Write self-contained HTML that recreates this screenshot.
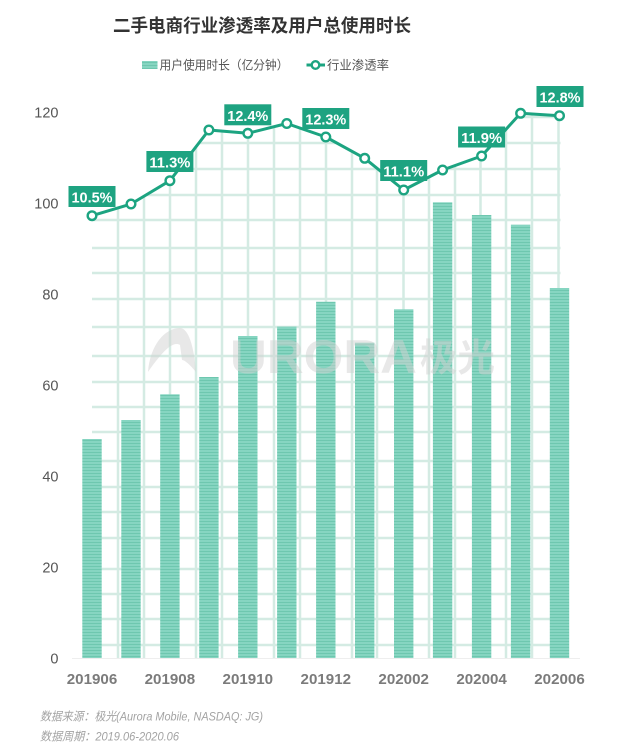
<!DOCTYPE html>
<html><head><meta charset="utf-8"><style>
html,body{margin:0;padding:0;background:#fff;}
svg{display:block;}
text{font-family:"Liberation Sans","Noto Sans CJK SC",sans-serif;}
</style></head><body>
<svg width="640" height="748" viewBox="0 0 640 748" xmlns="http://www.w3.org/2000/svg">
<defs>
<pattern id="stripe" width="4" height="3" patternUnits="userSpaceOnUse">
<rect width="4" height="3" fill="#86d5c1"/>
<rect y="2" width="4" height="1" fill="#6ec7af"/>
</pattern>
<clipPath id="under">
<polygon points="92,215.7 131,204 169.9,180.7 208.9,130 247.8,133.3 286.8,123.5 325.8,137 364.7,158.3 403.7,190 442.6,170 481.6,156 520.6,113.3 560.5,115.7 560.5,658 92,658"/>
</clipPath>
</defs>
<rect width="640" height="748" fill="#fff"/>

<!-- title -->
<text x="113" y="32" font-size="18" font-weight="bold" fill="#333" textLength="298" lengthAdjust="spacingAndGlyphs">二手电商行业渗透率及用户总使用时长</text>

<!-- legend -->
<rect x="142" y="61" width="15.5" height="8" fill="url(#stripe)"/>
<text x="159.5" y="69.5" font-size="12.5" fill="#555" textLength="129" lengthAdjust="spacingAndGlyphs">用户使用时长（亿分钟）</text>
<line x1="306.5" y1="65" x2="325" y2="65" stroke="#1ca481" stroke-width="3"/>
<circle cx="315.5" cy="65" r="3.8" fill="#fff" stroke="#1ca481" stroke-width="2.4"/>
<text x="327" y="69.5" font-size="12.5" fill="#555" textLength="62" lengthAdjust="spacingAndGlyphs">行业渗透率</text>

<!-- grid -->
<g clip-path="url(#under)" stroke="#d4ebe3" stroke-width="2.5">
<line x1="118" y1="100" x2="118" y2="658"/>
<line x1="144" y1="100" x2="144" y2="658"/>
<line x1="170" y1="100" x2="170" y2="658"/>
<line x1="196" y1="100" x2="196" y2="658"/>
<line x1="222" y1="100" x2="222" y2="658"/>
<line x1="248" y1="100" x2="248" y2="658"/>
<line x1="274" y1="100" x2="274" y2="658"/>
<line x1="300" y1="100" x2="300" y2="658"/>
<line x1="326" y1="100" x2="326" y2="658"/>
<line x1="352" y1="100" x2="352" y2="658"/>
<line x1="377" y1="100" x2="377" y2="658"/>
<line x1="403.5" y1="100" x2="403.5" y2="658"/>
<line x1="429" y1="100" x2="429" y2="658"/>
<line x1="455" y1="100" x2="455" y2="658"/>
<line x1="480.5" y1="100" x2="480.5" y2="658"/>
<line x1="506" y1="100" x2="506" y2="658"/>
<line x1="532" y1="100" x2="532" y2="658"/>
<line x1="558.5" y1="100" x2="558.5" y2="658"/>
<line x1="92" y1="117" x2="561" y2="117"/>
<line x1="92" y1="143" x2="561" y2="143"/>
<line x1="92" y1="169" x2="561" y2="169"/>
<line x1="92" y1="195" x2="561" y2="195"/>
<line x1="92" y1="220" x2="561" y2="220"/>
<line x1="92" y1="248" x2="561" y2="248"/>
<line x1="92" y1="273" x2="561" y2="273"/>
<line x1="92" y1="299" x2="561" y2="299"/>
<line x1="92" y1="327" x2="561" y2="327"/>
<line x1="92" y1="356" x2="561" y2="356"/>
<line x1="92" y1="382" x2="561" y2="382"/>
<line x1="92" y1="407" x2="561" y2="407"/>
<line x1="92" y1="432" x2="561" y2="432"/>
<line x1="92" y1="461" x2="561" y2="461"/>
<line x1="92" y1="487" x2="561" y2="487"/>
<line x1="92" y1="512" x2="561" y2="512"/>
<line x1="92" y1="538" x2="561" y2="538"/>
<line x1="92" y1="569" x2="561" y2="569"/>
<line x1="92" y1="594" x2="561" y2="594"/>
<line x1="92" y1="619" x2="561" y2="619"/>
<line x1="92" y1="645" x2="561" y2="645"/>
</g>

<!-- baseline -->
<line x1="72" y1="658.5" x2="580" y2="658.5" stroke="#eeeeee" stroke-width="1"/>

<!-- bars -->
<g fill="url(#stripe)">
<rect x="82.3" y="439" width="19.4" height="219"/>
<rect x="121.3" y="420" width="19.4" height="238"/>
<rect x="160.2" y="394.3" width="19.4" height="263.7"/>
<rect x="199.2" y="377" width="19.4" height="281"/>
<rect x="238.1" y="336" width="19.4" height="322"/>
<rect x="277.1" y="326.7" width="19.4" height="331.3"/>
<rect x="316.1" y="301.7" width="19.4" height="356.3"/>
<rect x="355" y="342.7" width="19.4" height="315.3"/>
<rect x="394" y="309.3" width="19.4" height="348.7"/>
<rect x="432.9" y="202.3" width="19.4" height="455.7"/>
<rect x="471.9" y="215" width="19.4" height="443"/>
<rect x="510.9" y="224.7" width="19.4" height="433.3"/>
<rect x="549.8" y="288" width="19.4" height="370"/>
</g>

<!-- watermark -->
<g opacity="0.5" fill="#d2d2d2">
<path d="M148,372 C150,345 165,328 180,328 C188,328 194,345 196,372 C190,365 185,360 182,360 L180,345 C172,340 160,355 148,372 Z"/>
<text x="230" y="373" font-size="47" font-weight="bold" fill="#d2d2d2" textLength="187" lengthAdjust="spacingAndGlyphs">URORA</text>
<text x="420" y="371" font-size="38" font-weight="bold" fill="#d2d2d2" textLength="75" lengthAdjust="spacingAndGlyphs">极光</text>
</g>

<!-- line -->
<polyline fill="none" stroke="#1ca481" stroke-width="3" stroke-linejoin="round" points="92,215.7 131,204 169.9,180.7 208.9,130 247.8,133.3 286.8,123.5 325.8,137 364.7,158.3 403.7,190 442.6,170 481.6,156 520.6,113.3 559.5,115.7"/>
<g fill="#fff" stroke="#1ca481" stroke-width="2.4">
<circle cx="92" cy="215.7" r="4.3"/>
<circle cx="131" cy="204" r="4.3"/>
<circle cx="169.9" cy="180.7" r="4.3"/>
<circle cx="208.9" cy="130" r="4.3"/>
<circle cx="247.8" cy="133.3" r="4.3"/>
<circle cx="286.8" cy="123.5" r="4.3"/>
<circle cx="325.8" cy="137" r="4.3"/>
<circle cx="364.7" cy="158.3" r="4.3"/>
<circle cx="403.7" cy="190" r="4.3"/>
<circle cx="442.6" cy="170" r="4.3"/>
<circle cx="481.6" cy="156" r="4.3"/>
<circle cx="520.6" cy="113.3" r="4.3"/>
<circle cx="559.5" cy="115.7" r="4.3"/>
</g>

<!-- data labels -->
<g fill="#1ea381">
<rect x="68.5" y="186" width="47" height="21"/>
<rect x="146.4" y="151" width="47" height="21"/>
<rect x="224.3" y="104.3" width="47" height="21"/>
<rect x="302.3" y="108" width="47" height="21"/>
<rect x="380.2" y="160" width="47" height="21"/>
<rect x="458.1" y="126.5" width="47" height="21"/>
<rect x="536.5" y="86" width="47" height="21"/>
</g>
<g fill="#fff" font-size="15" font-weight="bold" text-anchor="middle">
<text x="92" y="202.5" textLength="41" lengthAdjust="spacingAndGlyphs">10.5%</text>
<text x="169.9" y="167.5" textLength="41" lengthAdjust="spacingAndGlyphs">11.3%</text>
<text x="247.8" y="120.8" textLength="41" lengthAdjust="spacingAndGlyphs">12.4%</text>
<text x="325.8" y="124.5" textLength="41" lengthAdjust="spacingAndGlyphs">12.3%</text>
<text x="403.7" y="176.5" textLength="41" lengthAdjust="spacingAndGlyphs">11.1%</text>
<text x="481.6" y="143" textLength="41" lengthAdjust="spacingAndGlyphs">11.9%</text>
<text x="560" y="102.5" textLength="41" lengthAdjust="spacingAndGlyphs">12.8%</text>
</g>

<!-- y axis labels -->
<g fill="#555" font-size="14.5" text-anchor="end">
<text x="58.5" y="117.5">120</text>
<text x="58.5" y="208.5">100</text>
<text x="58.5" y="299.5">80</text>
<text x="58.5" y="390.5">60</text>
<text x="58.5" y="481.5">40</text>
<text x="58.5" y="572.5">20</text>
<text x="58.5" y="663.5">0</text>
</g>

<!-- x axis labels -->
<g fill="#7b7b7b" font-size="15" font-weight="bold" text-anchor="middle">
<text x="92" y="684" textLength="50.5" lengthAdjust="spacingAndGlyphs">201906</text>
<text x="169.9" y="684" textLength="50.5" lengthAdjust="spacingAndGlyphs">201908</text>
<text x="247.8" y="684" textLength="50.5" lengthAdjust="spacingAndGlyphs">201910</text>
<text x="325.8" y="684" textLength="50.5" lengthAdjust="spacingAndGlyphs">201912</text>
<text x="403.7" y="684" textLength="50.5" lengthAdjust="spacingAndGlyphs">202002</text>
<text x="481.6" y="684" textLength="50.5" lengthAdjust="spacingAndGlyphs">202004</text>
<text x="559.5" y="684" textLength="50.5" lengthAdjust="spacingAndGlyphs">202006</text>
</g>

<!-- footer -->
<g fill="#a3a3a3" font-size="12" font-style="italic">
<text x="40" y="720.5" textLength="223" lengthAdjust="spacingAndGlyphs">数据来源：极光(Aurora Mobile, NASDAQ: JG)</text>
<text x="40" y="740.5" textLength="139" lengthAdjust="spacingAndGlyphs">数据周期：2019.06-2020.06</text>
</g>
</svg>
</body></html>
